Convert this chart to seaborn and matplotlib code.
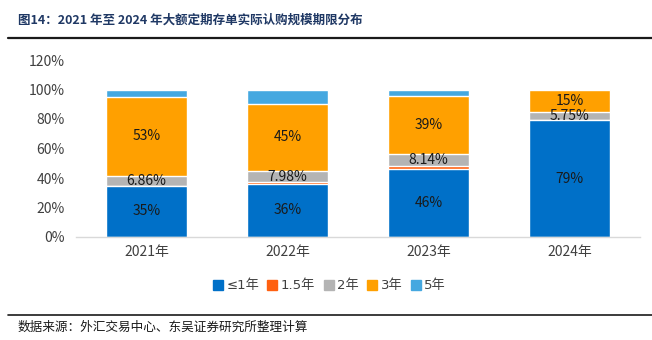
import matplotlib
matplotlib.use("Agg")
import matplotlib.pyplot as plt
from matplotlib.lines import Line2D
import numpy as np
import pandas as pd
import seaborn as sns

# Subscription share by tenor, per year (%)
years = ["2021年", "2022年", "2023年", "2024年"]
series_names = ["≤1年", "1.5年", "2年", "3年", "5年"]
le_1y = [34.8, 36.2, 46.0, 79.25]
y_1_5 = [0.0, 0.8, 2.2, 0.0]
y_2 = [6.86, 7.98, 8.14, 5.75]
y_3 = [53.2, 45.0, 39.0, 15.0]
y_5 = [5.14, 10.02, 4.66, 0.0]
y_ticks = [0, 20, 40, 60, 80, 100, 120]

colors = ["#0070C8", "#FF6010", "#B4B4B4", "#FFA000", "#45A8E0"]
# label format per series (None = no label)
label_fmt = ["{:.0f}%", None, "{:.2f}%", "{:.0f}%", None]

sns.set_theme(style="white")
plt.rcParams["font.family"] = ["Noto Sans CJK SC", "DejaVu Sans"]

df = pd.DataFrame({"year": years, "≤1年": le_1y, "1.5年": y_1_5,
                   "2年": y_2, "3年": y_3, "5年": y_5})
values = df[series_names].to_numpy()
cum = np.cumsum(values, axis=1)

fig = plt.figure(figsize=(6.52, 3.40), dpi=100)
ax = fig.add_axes([76 / 652, 103 / 340, 564 / 652, 177 / 340])

# stacked bars: draw cumulative totals from the top segment down
for i in range(len(series_names) - 1, -1, -1):
    plot_df = pd.DataFrame({"year": years, "total": cum[:, i]})
    sns.barplot(data=plot_df, x="year", y="total", color=colors[i],
                width=0.575, saturation=1, ax=ax, order=years)

# segment labels
for j in range(len(years)):
    for i, fmt in enumerate(label_fmt):
        if fmt is None or values[j, i] <= 0:
            continue
        mid = cum[j, i] - values[j, i] / 2
        ax.text(j, mid, fmt.format(values[j, i]), ha="center", va="center",
                fontsize=10, color="#1a1a1a")

ax.set_ylim(0, 120)
ax.set_xlim(-0.5, 3.5)
ax.set_yticks(y_ticks)
ax.set_yticklabels([f"{t}%" for t in y_ticks])
ax.set_xlabel("")
ax.set_ylabel("")
ax.tick_params(axis="both", labelsize=10, colors="#404040", length=0)
ax.tick_params(axis="x", pad=6)
ax.tick_params(axis="y", pad=8)
for s in ["top", "right", "left"]:
    ax.spines[s].set_visible(False)
ax.spines["bottom"].set_color("#D9D9D9")
ax.spines["bottom"].set_linewidth(1.0)

handles = [Line2D([0], [0], marker="s", linestyle="", markersize=6.5,
                  markerfacecolor=c, markeredgecolor=c) for c in colors]
fig.legend(handles, series_names, loc="center", bbox_to_anchor=(0.505, 54 / 340),
           ncol=5, frameon=False, handlelength=0.8,
           prop={"family": ["DejaVu Sans", "Noto Sans CJK SC"], "size": 9.5},
           handletextpad=0.25, columnspacing=0.6, labelcolor="#404040")

# title and source
fig.text(18 / 652, 1 - 20 / 340, "图14：2021 年至 2024 年大额定期存单实际认购规模期限分布",
         fontsize=9, fontweight="bold", color="#1F3864", va="center", ha="left")
fig.add_artist(Line2D([8 / 652, 1], [1 - 38 / 340] * 2, color="#1a1a1a", lw=1.6))
fig.add_artist(Line2D([8 / 652, 1], [1 - 315 / 340] * 2, color="#1a1a1a", lw=1.2))
fig.text(18 / 652, 1 - 327 / 340, "数据来源：外汇交易中心、东吴证券研究所整理计算",
         fontsize=9.1, color="#1a1a1a", va="center", ha="left")

fig.savefig("out.png", dpi=100)
